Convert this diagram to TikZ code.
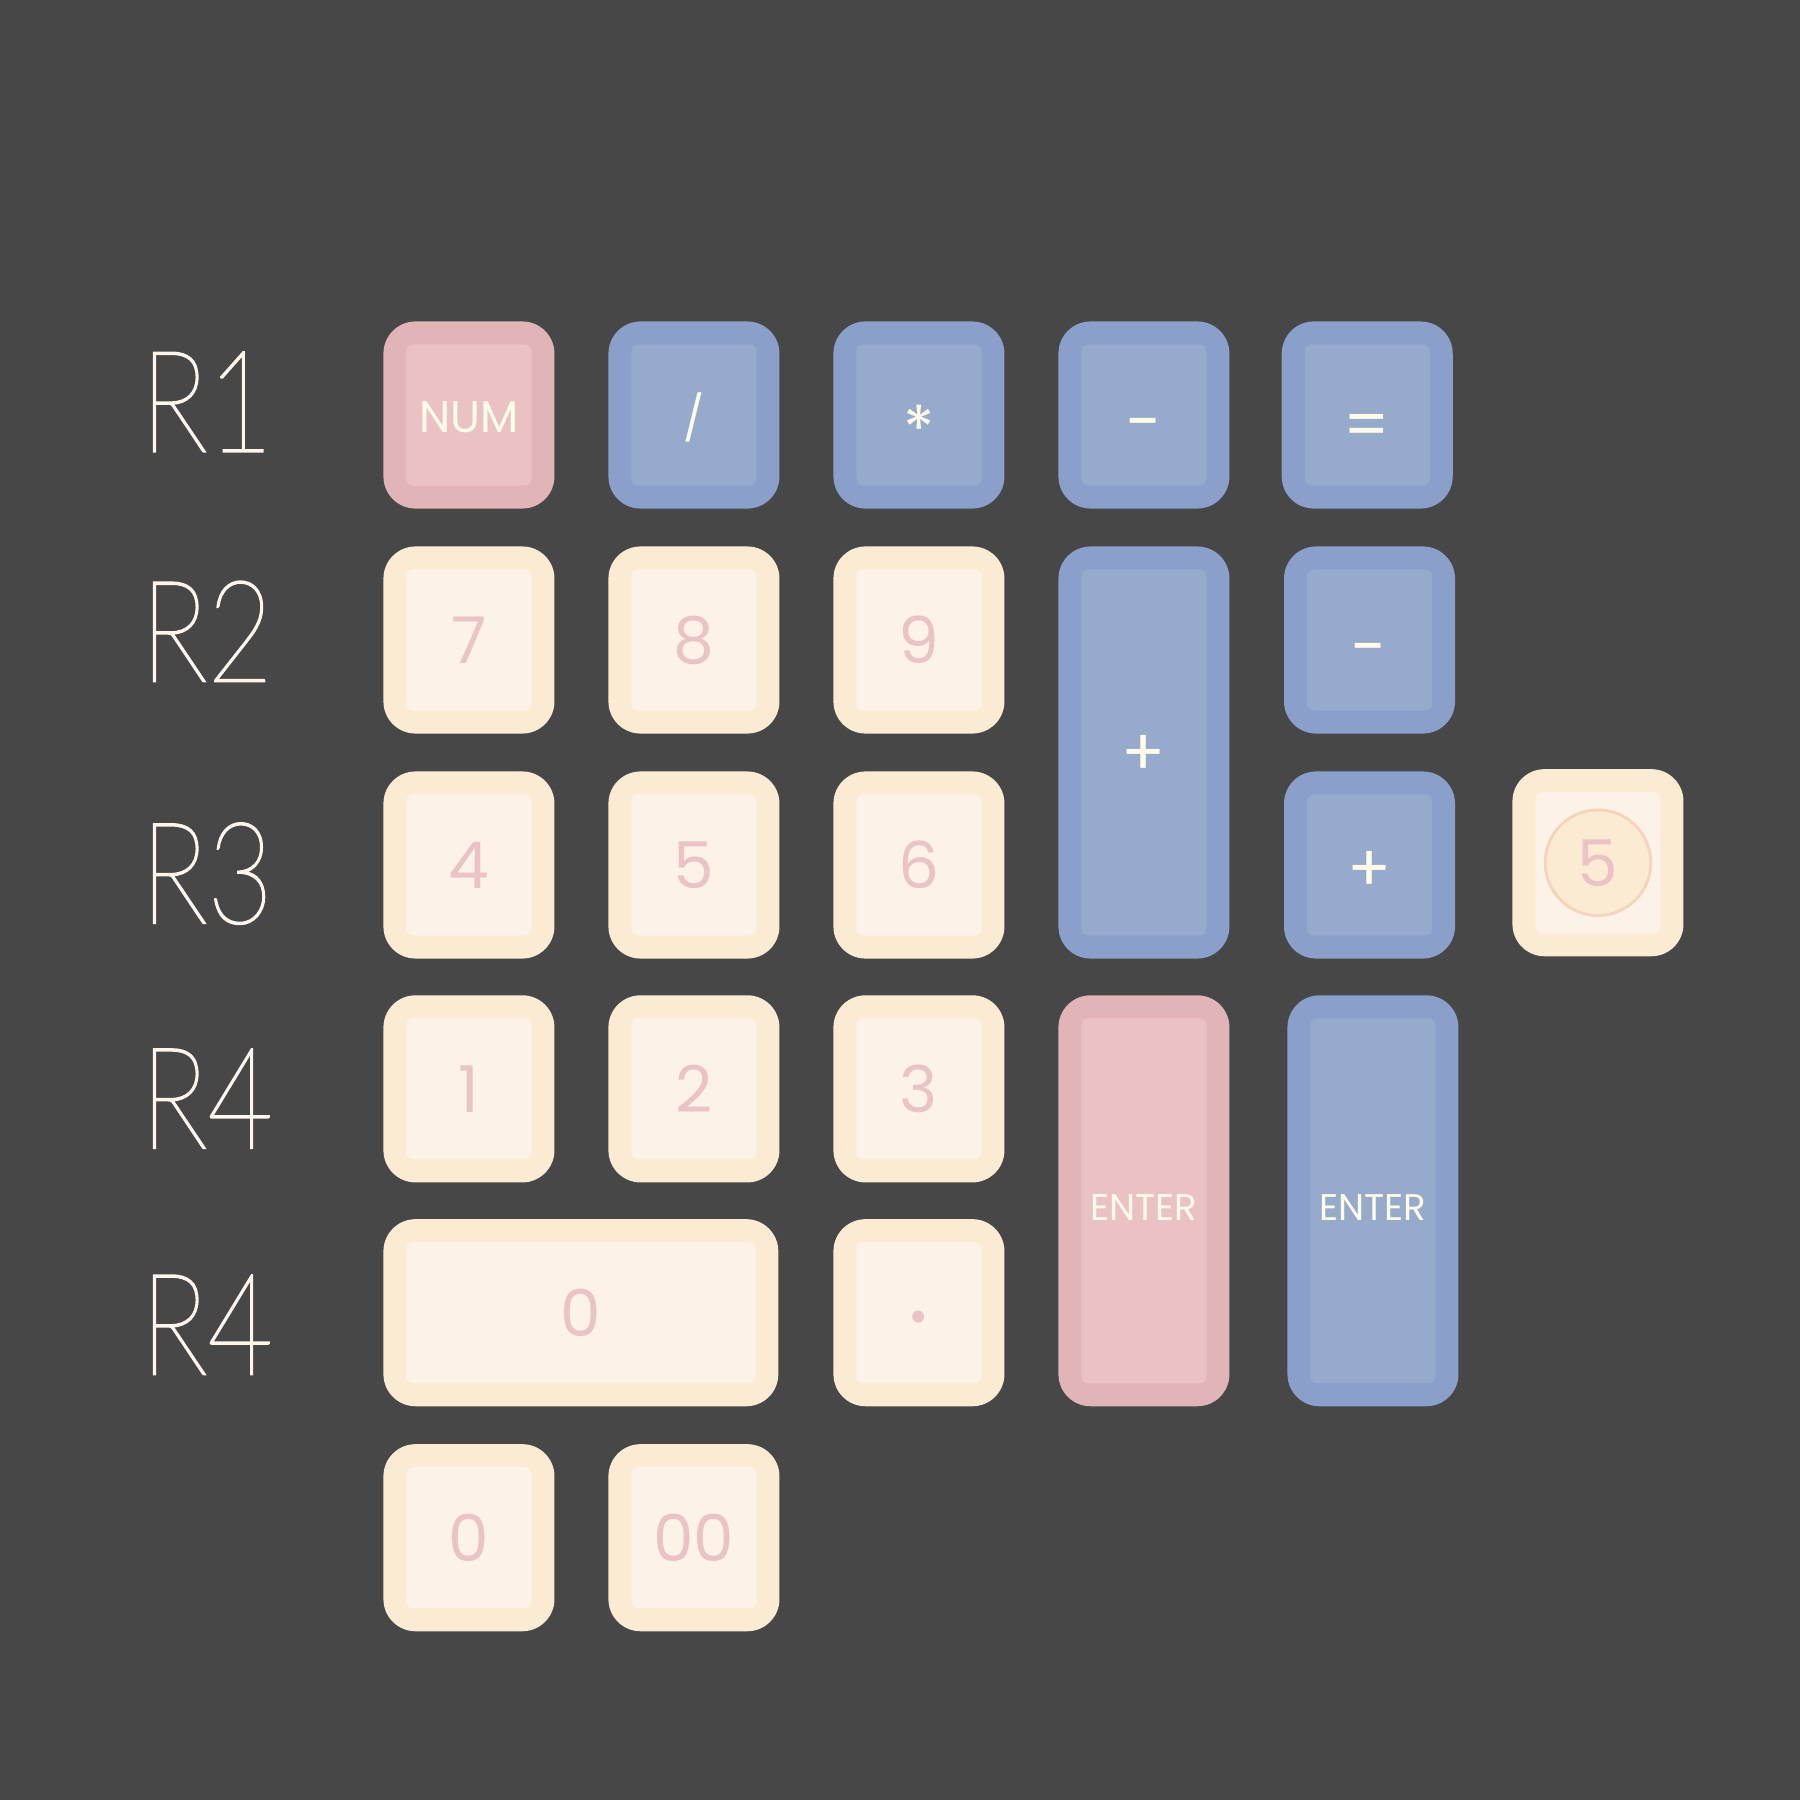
\documentclass[tikz,border=0pt]{standalone}
\usepackage{fontspec}
\setmainfont{Poppins}
\newfontfamily\rowfont{Lato Thin}[RawFeature={embolden=1.5}]
\usetikzlibrary{positioning}

\definecolor{bg}{HTML}{474747}
\definecolor{pinkout}{HTML}{E1B4B8}
\definecolor{pinkin}{HTML}{EBC2C4}
\definecolor{pinktxt}{HTML}{FFFBE9}
\definecolor{blueout}{HTML}{8A9FC9}
\definecolor{bluein}{HTML}{96AACB}
\definecolor{bluetxt}{HTML}{FFFBE9}
\definecolor{creamout}{HTML}{FCEBD3}
\definecolor{creamin}{HTML}{FDF2E7}
\definecolor{creamtxt}{HTML}{EBC3C6}
\definecolor{peach}{HTML}{F7D3B9}
\definecolor{rowtxt}{HTML}{FFF5EA}

\tikzset{
  keyshell/.style={rounded corners=2.8mm, inner sep=0pt},
  keyface/.style={rounded corners=0.6mm, inner sep=0pt},
  digit/.style={font=\fontsize{16}{16}\selectfont},
  sign/.style={digit, yshift=-1.4mm},
  word/.style={font=\fontsize{9.2}{9.2}\selectfont},
  rowlab/.style={font=\rowfont\fontsize{35}{35}\selectfont, text=rowtxt, inner sep=0pt,
                 anchor=west, xscale=0.8}
}

% #1 label style, #2 name, #3 centre, #4 colour, #5 width, #6 height (px), #7 label
\newcommand{\keycap}[7][digit]{%
  \node[keyshell, fill=#4out, minimum width=#5*0.1mm, minimum height=#6*0.1mm] (#2) at #3 {};
  \node[keyface, fill=#4in, minimum width=#5*0.1mm-4mm, minimum height=#6*0.1mm-4mm]
    (#2face) at (#2.center) {};
  \node[inner sep=0pt, text=#4txt, #1] (#2label) at (#2.center) {#7};
}

\begin{document}
\begin{tikzpicture}[x=0.1mm, y=-0.1mm]

% Hintergrund
\fill[bg] (0,0) rectangle (1568,1568);
\useasboundingbox (0,0) rectangle (1568,1568);

% Zeilen
\foreach \lab/\y [count=\i] in {R1/350, R2/550, R3/761, R4/957, R4/1154}
  \node[rowlab] (row\i) at (122,\y) {\lab};

% R1
\keycap[font=\fontsize{11}{11}\selectfont, yshift=-0.2mm]{num}{(408.5,361.5)}{pink}{149}{163}{NUM}
\keycap[font=\fontsize{11}{11}\selectfont, yshift=-0.2mm]{div}{(604.5,361.5)}{blue}{149}{163}{/}
\keycap[digit, yshift=-1.2mm]{mul}{(800.5,361.5)}{blue}{149}{163}{*}
\keycap[sign]{minus}{(996.5,361.5)}{blue}{149}{163}{-}
\keycap[sign]{equal}{(1191,361.5)}{blue}{149}{163}{=}

% Ziffernblock
\foreach \lab/\x/\y in {7/408.5/557.5, 8/604.5/557.5, 9/800.5/557.5,
                        4/408.5/753.5, 5/604.5/753.5, 6/800.5/753.5,
                        1/408.5/948.5, 2/604.5/948.5, 3/800.5/948.5}
  {\keycap{k\lab}{(\x,\y)}{cream}{149}{163}{\lab}}

\keycap[digit, yshift=-0.3mm]{plus}{(996.5,655.5)}{blue}{149}{359}{+}
\keycap[sign]{minusb}{(1193,557.5)}{blue}{149}{163}{-}
\keycap[digit, yshift=-0.6mm]{plusb}{(1193,753.5)}{blue}{149}{163}{+}

% Seitentaste mit Kreis
\keycap{side}{(1392,751.5)}{cream}{149}{163}{}
\node[circle, draw=peach, line width=0.25mm, fill=creamout, minimum size=9.2mm,
      inner sep=0pt, text=creamtxt, digit] (dial) at (side.center) {5};

% Enter
\keycap[word, yshift=-0.6mm]{enter}{(996.5,1046)}{pink}{149}{358}{ENTER}
\keycap[word, yshift=-0.6mm]{enterb}{(1196,1046)}{blue}{149}{358}{ENTER}

% untere Reihen
\keycap{zero}{(506,1143.5)}{cream}{344}{163}{0}
\keycap[font=\fontsize{24}{24}\selectfont, yshift=-0.4mm]{dot}{(800.5,1143.5)}{cream}{149}{163}{.}
\keycap{zeroa}{(408.5,1339.5)}{cream}{149}{163}{0}
\keycap{zerob}{(604.5,1339.5)}{cream}{149}{163}{00}

\end{tikzpicture}
\end{document}
